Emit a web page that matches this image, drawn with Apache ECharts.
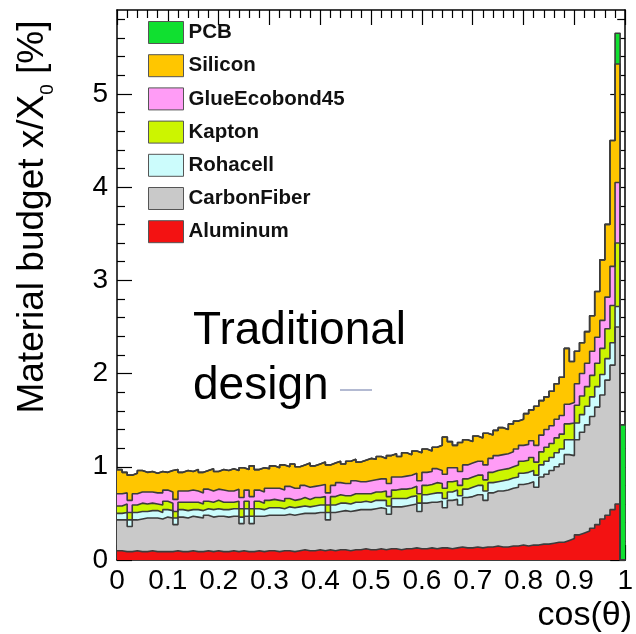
<!DOCTYPE html>
<html><head><meta charset="utf-8">
<script src="https://cdn.jsdelivr.net/npm/echarts@6/dist/echarts.min.js"></script>
<style>html,body{margin:0;padding:0;background:#fff}#c{width:636px;height:634px}</style>
</head><body><div id="c"></div>
<script>
// bin low edges of cos(theta)
const binEdges = [0,0.01,0.02,0.03,0.04,0.05,0.06,0.07,0.08,0.09,
0.10,0.11,0.12,0.13,0.14,0.15,0.16,0.17,0.18,0.19,
0.20,0.21,0.22,0.23,0.24,0.25,0.26,0.27,0.28,0.29,
0.30,0.31,0.32,0.33,0.34,0.35,0.36,0.37,0.38,0.39,
0.40,0.41,0.42,0.43,0.44,0.45,0.46,0.47,0.48,0.49,
0.50,0.51,0.52,0.53,0.54,0.55,0.56,0.57,0.58,0.59,
0.60,0.61,0.62,0.63,0.64,0.65,0.66,0.67,0.68,0.69,
0.70,0.71,0.72,0.73,0.74,0.75,0.76,0.77,0.78,0.79,
0.80,0.81,0.82,0.83,0.84,0.85,0.86,0.87,0.88,0.89,
0.90,0.91,0.92,0.93,0.94,0.95,0.96,0.97,0.98,0.99];
const binUpper = 1.0;

// per-material contribution x/X0 [%] in each bin
const aluminum = [.10,.09,.09,.10,.09,.09,.10,.09,.09,.09,
.09,.10,.09,.09,.10,.09,.09,.10,.09,.10,
.09,.09,.10,.09,.10,.09,.09,.10,.09,.10,
.10,.09,.10,.10,.09,.10,.11,.10,.10,.11,
.10,.11,.10,.11,.11,.10,.11,.11,.12,.11,
.11,.12,.11,.12,.12,.11,.12,.12,.13,.12,
.12,.13,.12,.13,.13,.12,.13,.14,.13,.13,
.14,.13,.14,.14,.15,.14,.14,.15,.15,.16,
.15,.16,.16,.17,.17,.18,.19,.19,.21,.23,
.27,.29,.31,.34,.38,.44,.48,.54,.60,0];
const carbonFiber = [.33,.34,.27,.33,.35,.36,.35,.36,.35,.37,
.36,.28,.37,.36,.37,.37,.36,.38,.37,.37,
.38,.37,.37,.38,.29,.38,.30,.37,.38,.38,
.38,.39,.38,.39,.39,.39,.39,.40,.40,.40,
.41,.32,.41,.41,.42,.42,.42,.43,.42,.43,
.44,.44,.44,.37,.45,.46,.46,.47,.47,.40,
.49,.49,.50,.50,.43,.52,.52,.45,.54,.55,
.56,.57,.50,.58,.59,.60,.61,.62,.63,.65,
.67,.68,.62,.72,.75,.78,.81,.84,.92,.89,
1.02,1.08,1.14,1.20,1.26,1.33,1.45,1.55,1.90,0];
const rohacell = [.07,.08,.07,.08,.08,.07,.08,.08,.07,.08,
.08,.07,.08,.08,.07,.08,.08,.07,.08,.08,
.07,.08,.08,.08,.07,.08,.08,.08,.07,.08,
.08,.08,.07,.08,.08,.08,.08,.07,.08,.08,
.08,.08,.08,.09,.08,.08,.09,.08,.09,.08,
.09,.08,.09,.09,.09,.09,.08,.09,.09,.09,
.09,.09,.10,.09,.10,.09,.10,.10,.09,.10,
.10,.10,.10,.11,.10,.11,.11,.11,.11,.12,
.12,.12,.13,.13,.14,.14,.15,.16,.16,.17,
.18,.19,.20,.21,.22,.22,.23,.24,.22,0];
const kapton = [.08,.09,.08,.08,.09,.08,.08,.07,.08,.09,
.08,.07,.08,.09,.08,.08,.07,.08,.08,.09,
.08,.08,.07,.08,.09,.08,.08,.08,.07,.08,
.09,.08,.08,.09,.08,.08,.09,.08,.09,.08,
.09,.08,.09,.09,.08,.09,.09,.09,.08,.09,
.09,.09,.10,.10,.09,.10,.10,.09,.10,.10,
.10,.10,.11,.10,.11,.11,.10,.11,.11,.11,
.11,.11,.12,.11,.12,.12,.12,.12,.13,.13,
.13,.14,.14,.14,.15,.15,.16,.16,.17,.18,
.19,.20,.21,.23,.25,.28,.32,.40,.68,0];
const glueEcobond45 = [.13,.12,.13,.12,.12,.13,.12,.12,.13,.12,
.12,.13,.12,.12,.13,.12,.12,.13,.12,.12,
.13,.12,.12,.13,.12,.12,.13,.12,.12,.13,
.12,.13,.12,.13,.13,.12,.13,.13,.12,.13,
.13,.13,.12,.13,.13,.13,.14,.13,.13,.14,
.13,.14,.13,.14,.14,.13,.14,.14,.14,.14,
.14,.14,.15,.14,.15,.15,.14,.15,.15,.15,
.15,.15,.16,.15,.16,.16,.16,.16,.17,.17,
.17,.18,.18,.18,.19,.19,.20,.20,.21,.22,
.23,.24,.25,.26,.28,.30,.34,.42,.65,0];
const silicon = [.26,.22,.27,.22,.23,.21,.22,.21,.23,.19,
.23,.32,.20,.22,.20,.23,.22,.20,.24,.19,
.22,.22,.24,.20,.32,.22,.33,.22,.26,.21,
.24,.22,.27,.21,.26,.23,.22,.26,.22,.23,
.24,.30,.24,.23,.21,.24,.23,.21,.23,.24,
.22,.24,.22,.30,.25,.22,.25,.22,.24,.30,
.25,.22,.23,.27,.40,.28,.24,.31,.27,.23,
.27,.25,.34,.25,.27,.29,.26,.30,.30,.28,
.33,.33,.42,.37,.35,.37,.38,.41,.60,.44,
.35,.33,.34,.38,.49,.65,.78,1.35,1.27,0];
const pcb = [0,0,0,0,0,0,0,0,0,0, 0,0,0,0,0,0,0,0,0,0,
0,0,0,0,0,0,0,0,0,0, 0,0,0,0,0,0,0,0,0,0,
0,0,0,0,0,0,0,0,0,0, 0,0,0,0,0,0,0,0,0,0,
0,0,0,0,0,0,0,0,0,0, 0,0,0,0,0,0,0,0,0,0,
0,0,0,0,0,0,0,0,0,0, 0,0,0,0,0,0,0,0,.33,1.45];

const legendOrder = ['PCB','Silicon','GlueEcobond45','Kapton','Rohacell','CarbonFiber','Aluminum'];
const xTickStep = 0.1;
const yMajorTicks = [0,1,2,3,4,5];
const yMinorTicks = [0.2,0.4,0.6,0.8,1.2,1.4,1.6,1.8,2.2,2.4,2.6,2.8,3.2,3.4,3.6,3.8,4.2,4.4,4.6,4.8,5.2,5.4,5.6,5.8];
const yMax = 5.9;

const FONT = '"Liberation Sans", Arial, Helvetica, sans-serif';
const OUTLINE = '#3c3c3c';

// stack order bottom -> top
const layers = [
  { name: 'Aluminum', values: aluminum, color: '#f31212' },
  { name: 'CarbonFiber', values: carbonFiber, color: '#c9c9c9' },
  { name: 'Rohacell', values: rohacell, color: '#ccfcfc' },
  { name: 'Kapton', values: kapton, color: '#ccf500' },
  { name: 'GlueEcobond45', values: glueEcobond45, color: '#ff9cf6' },
  { name: 'Silicon', values: silicon, color: '#ffc600' },
  { name: 'PCB', values: pcb, color: '#10e030' }
];
// cumulative sums (like a THStack), drawn top-most first
let running = binEdges.map(() => 0);
const cumulative = layers.map(l => {
  running = running.map((v, i) => v + l.values[i]);
  return { name: l.name, color: l.color, values: running.slice() };
});

function hist(c) {
  const pts = binEdges.map((x, i) => [x, +c.values[i].toFixed(4)]);
  pts.push([binUpper, +c.values[c.values.length - 1].toFixed(4)]);
  return {
    name: c.name, type: 'line', step: 'end', symbol: 'none',
    color: c.color, silent: true,
    lineStyle: { color: OUTLINE, width: 1.6 },
    areaStyle: { color: c.color, opacity: 1, origin: 'start' },
    data: pts
  };
}

const xBase = {
  type: 'value', min: 0, max: 1, interval: xTickStep,
  axisLine: { show: true, onZero: false, lineStyle: { color: '#000', width: 1.5 } },
  axisTick: { show: true, inside: true, length: 15, lineStyle: { color: '#000', width: 1.2 } },
  minorTick: { show: true, splitNumber: 5, length: 8, lineStyle: { color: '#000', width: 1.2 } },
  splitLine: { show: false }, minorSplitLine: { show: false }
};
const yBase = { type: 'value', min: 0, max: yMax, splitLine: { show: false } };

const chart = echarts.init(document.getElementById('c'));
chart.setOption({
  animation: false,
  backgroundColor: '#fff',
  grid: { left: 117, right: 5, top: 10, bottom: 74 },
  xAxis: [
    Object.assign({}, xBase, { position: 'bottom',
      axisLabel: { show: true, fontFamily: FONT, fontSize: 28, color: '#000', margin: 7 } }),
    Object.assign({}, xBase, { position: 'top', axisLabel: { show: false } })
  ],
  yAxis: [
    Object.assign({}, yBase, { position: 'left', interval: 1,
      axisLine: { show: true, lineStyle: { color: '#000', width: 1.5 } },
      axisTick: { show: true, inside: true, length: 15, customValues: yMajorTicks, lineStyle: { color: '#000', width: 1.2 } },
      axisLabel: { show: true, customValues: yMajorTicks, fontFamily: FONT, fontSize: 28, color: '#000', margin: 9 } }),
    Object.assign({}, yBase, { position: 'left',
      axisLine: { show: false },
      axisTick: { show: true, inside: true, length: 8, customValues: yMinorTicks, lineStyle: { color: '#000', width: 1.2 } },
      axisLabel: { show: false } }),
    Object.assign({}, yBase, { position: 'right', interval: 1,
      axisLine: { show: true, lineStyle: { color: '#000', width: 1.5 } },
      axisTick: { show: true, inside: true, length: 15, customValues: yMajorTicks, lineStyle: { color: '#000', width: 1.2 } },
      axisLabel: { show: false } }),
    Object.assign({}, yBase, { position: 'right',
      axisLine: { show: false },
      axisTick: { show: true, inside: true, length: 8, customValues: yMinorTicks, lineStyle: { color: '#000', width: 1.2 } },
      axisLabel: { show: false } })
  ],
  legend: {
    orient: 'vertical', left: 148, top: 21, padding: 0,
    itemWidth: 35, itemHeight: 22, itemGap: 10.2,
    icon: 'rect', selectedMode: false,
    itemStyle: { borderColor: '#555', borderWidth: 1 },
    textStyle: { fontFamily: FONT, fontSize: 20.5, lineHeight: 22, fontWeight: 'bold', color: '#111' },
    data: legendOrder
  },
  series: cumulative.slice().reverse().map(hist),
  graphic: [
    { type: 'text', x: 36, y: 217, rotation: Math.PI / 2, silent: true,
      style: { text: '{a|Material budget x/X}{s|0}{a| [%]}', align: 'center', verticalAlign: 'middle',
        rich: { a: { fontSize: 37, fontFamily: FONT, fill: '#000', padding: [0, 0, 6, 0], verticalAlign: 'bottom' },
                s: { fontSize: 19, fontFamily: FONT, fill: '#000', verticalAlign: 'bottom' } } } },
    { type: 'text', x: 632, y: 616, silent: true,
      style: { text: 'cos(\u03b8)', fontSize: 34, fontFamily: FONT, fill: '#000', align: 'right', verticalAlign: 'middle' } },
    { type: 'text', x: 193, y: 331, silent: true,
      style: { text: 'Traditional', fontSize: 46, fontFamily: FONT, fill: '#000', align: 'left', verticalAlign: 'middle' } },
    { type: 'text', x: 193, y: 386, silent: true,
      style: { text: 'design', fontSize: 46, fontFamily: FONT, fill: '#000', align: 'left', verticalAlign: 'middle' } },
    { type: 'line', silent: true, shape: { x1: 340, y1: 390, x2: 372, y2: 390 },
      style: { stroke: '#9aa3c3', lineWidth: 1.5 } }
  ]
});
</script></body></html>
